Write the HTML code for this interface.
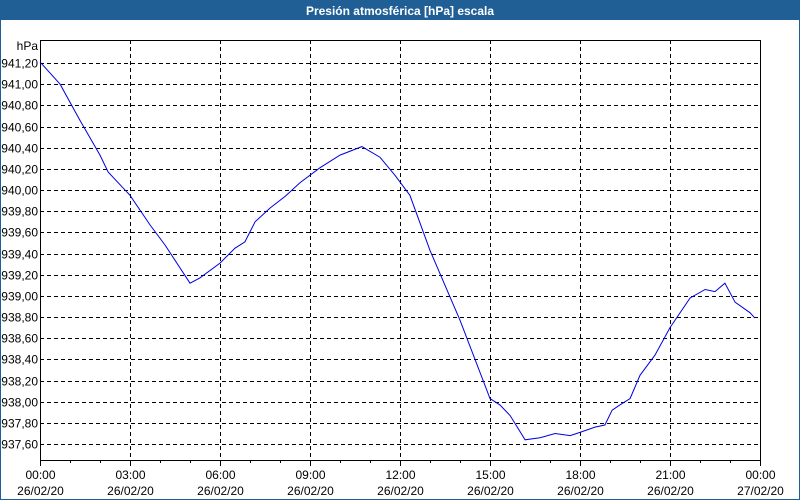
<!DOCTYPE html>
<html><head><meta charset="utf-8"><style>
body{margin:0;width:800px;height:500px;overflow:hidden;background:#fff;font-family:"Liberation Sans",sans-serif}
</style></head><body>
<svg width="800" height="500" style="display:block">
<rect x="0" y="0" width="800" height="500" fill="#fff" stroke="#1f5f96" stroke-width="2"/>
<rect x="0" y="0" width="800" height="20" fill="#1f5f96"/>
<text x="400" y="15" text-anchor="middle" fill="#fff" font-size="12" font-weight="bold">Presión atmosférica [hPa] escala</text>
<text x="38" y="50" text-anchor="end" font-size="12" fill="#000">hPa</text>
<g id="grid"></g><g id="axes"></g>
<path id="line" fill="none" stroke="#0000e0" stroke-width="1"/>
</svg>
<script>
const yTicks=[941.2,941.0,940.8,940.6,940.4,940.2,940.0,939.8,939.6,939.4,939.2,939.0,938.8,938.6,938.4,938.2,938.0,937.8,937.6];
const xTickTimes=["00:00","03:00","06:00","09:00","12:00","15:00","18:00","21:00","00:00"];
const xTickDates=["26/02/20","26/02/20","26/02/20","26/02/20","26/02/20","26/02/20","26/02/20","26/02/20","27/02/20"];
const hours=[0,0.67,1.33,2,2.27,3,3.67,4.17,5,5.33,6,6.5,6.83,7.17,7.67,8.17,8.67,9.33,10,10.73,11.33,11.83,12.33,13,14,15,15.33,15.67,16.17,16.67,17.17,17.67,18,18.5,18.83,19.07,19.33,19.67,20,20.5,21,21.67,22.17,22.5,22.83,23.17,23.67,23.83];
const values=[941.21,941.0,940.66,940.33,940.17,939.95,939.67,939.48,939.12,939.17,939.31,939.45,939.51,939.70,939.83,939.94,940.07,940.21,940.33,940.41,940.31,940.14,939.95,939.43,938.77,938.03,937.97,937.87,937.64,937.66,937.70,937.68,937.71,937.76,937.78,937.92,937.97,938.03,938.25,938.44,938.70,938.98,939.06,939.04,939.12,938.94,938.84,938.79];
const L=40,R=760,T=40,B=460;
const xs=h=>L+h*(R-L)/24;
const ys=v=>63+(941.2-v)/0.2*21.17;
const NS="http://www.w3.org/2000/svg";
const g=document.getElementById('grid'),a=document.getElementById('axes');
function mk(p,t,at){const e=document.createElementNS(NS,t);for(const k in at)e.setAttribute(k,at[k]);p.appendChild(e);return e;}
yTicks.forEach(v=>{const y=Math.round(ys(v))+0.5;
const l=mk(g,'line',{x1:L,x2:R,y1:y,y2:y,stroke:'#000','stroke-dasharray':'4,3'});


const t=mk(a,'text',{x:38,y:y+4,'text-anchor':'end','font-size':12});t.textContent=v.toFixed(2).replace('.',',');

});
xTickTimes.forEach((s,i)=>{const x=Math.round(xs(i*3))+0.5;
if(i>0&&i<8){const l=mk(g,'line',{x1:x,x2:x,y1:T,y2:B,stroke:'#000','stroke-dasharray':'4,3'});

}
const t=mk(a,'text',{x:x,y:479,'text-anchor':'middle','font-size':12});t.textContent=s;


const d=mk(a,'text',{x:x,y:495,'text-anchor':'middle','font-size':12});d.textContent=xTickDates[i];

});
for(let h=0;h<=24;h++){const x=Math.round(xs(h))+0.5;const tk=mk(a,'line',{x1:x,x2:x,y1:B,y2:B+(h%3?3:6),stroke:'#000'});

}
const fr=mk(a,'rect',{x:L+0.5,y:T+0.5,width:R-L,height:B-T,fill:'none',stroke:'#000'});


document.getElementById('line').setAttribute('d',hours.map((h,i)=>(i?'L':'M')+xs(h).toFixed(1)+','+ys(values[i]).toFixed(1)).join(''));
</script>
</body></html>
